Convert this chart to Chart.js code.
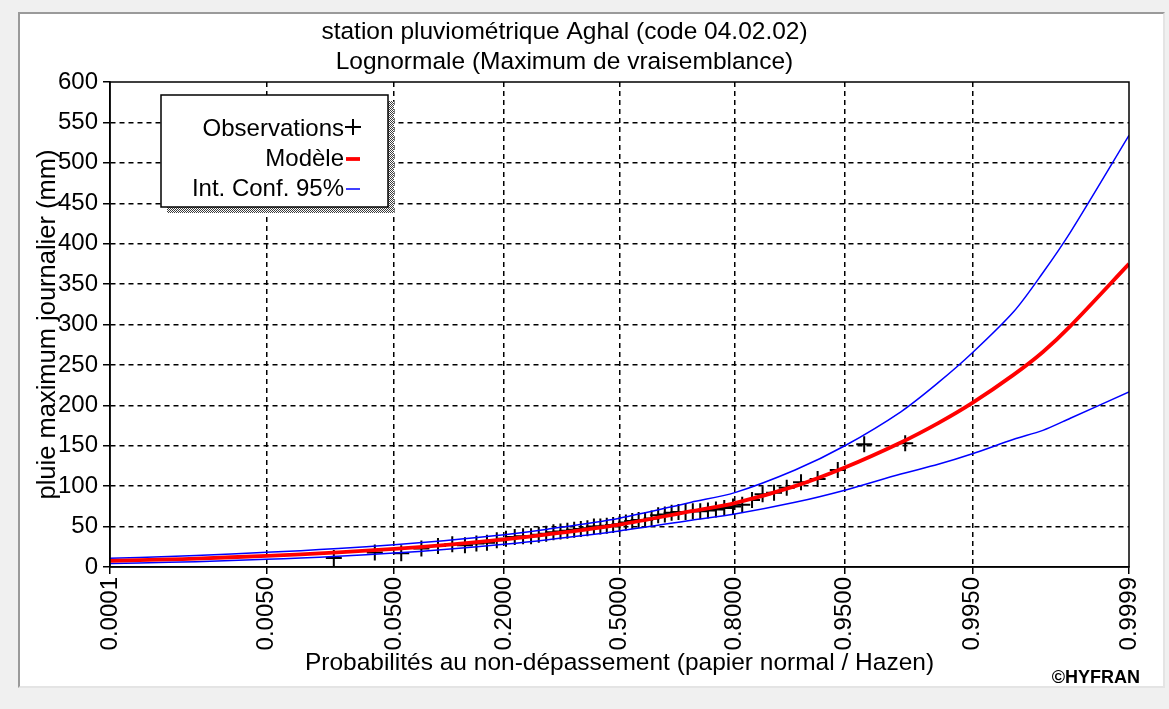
<!DOCTYPE html>
<html>
<head>
<meta charset="utf-8">
<title>station pluviométrique Aghal</title>
<script src="https://cdn.jsdelivr.net/npm/chart.js@4.4.1/dist/chart.umd.min.js"></script>
<style>
  html, body { margin: 0; padding: 0; width: 1169px; height: 709px; overflow: hidden; background: #f0f0f0; }
  #panel { position: absolute; left: 18px; top: 12px; width: 1143px; height: 672px; background: #fff;
           border-top: 2px solid #9a9a9a; border-left: 2px solid #9a9a9a;
           border-right: 2px solid #e4e4e4; border-bottom: 2px solid #e4e4e4; }
  #wrap { position: absolute; left: 0; top: 0; width: 1169px; height: 709px; }
</style>
</head>
<body>
<div id="panel"></div>
<div id="wrap"><canvas id="chart" width="1169" height="709"></canvas></div>
<script>
// ---- Data -------------------------------------------------------------
const titleLines = ['station pluviométrique Aghal (code 04.02.02)', 'Lognormale (Maximum de vraisemblance)'];

// Probability ticks of the normal-probability (Hazen) paper
const probTicks = [0.0001, 0.005, 0.05, 0.2, 0.5, 0.8, 0.95, 0.995, 0.9999];
const probTickLabels = ['0.0001', '0.0050', '0.0500', '0.2000', '0.5000', '0.8000', '0.9500', '0.9950', '0.9999'];

// Fitted quantiles (mm) and 95% confidence bounds at these non-exceedance probabilities
const quantileProbs = [0.0001, 0.0005, 0.001, 0.005, 0.01, 0.02, 0.05, 0.1, 0.2, 0.3, 0.5, 0.7, 0.8, 0.9, 0.95, 0.98, 0.99, 0.995, 0.998, 0.999, 0.9995, 0.9999];
const modelValues  = [7.5, 9.4, 10.4, 13.8, 15.7, 18.1, 22.4, 27.1, 34.1, 40.3, 52.5, 69, 79, 100, 123, 154, 178, 203, 238, 266, 298, 375];
const upperValues  = [10.7, 13.0, 14.2, 18.1, 20.2, 22.9, 27.5, 32.6, 40, 46.8, 60.4, 80.2, 92, 120, 150, 192, 228, 265, 316, 364, 414, 534];
const lowerValues  = [4.3, 5.8, 6.6, 9.5, 11.1, 13.3, 17.2, 21.6, 28.2, 33.8, 44.6, 57.9, 65.5, 80, 95, 115, 127, 140, 158, 169, 184, 216.5];

// Observed annual maximum daily rainfall (mm), ranked ascending
const observedValues = [11, 18, 17, 23, 26, 28, 27, 29, 30, 33, 35, 37, 38, 38, 40, 41, 43, 44, 45, 46, 47, 48,
  50, 50, 51, 52, 53, 55, 57, 58, 58, 60, 64, 65, 67, 68, 68, 69, 69, 70, 71, 73, 75, 77, 83, 90, 92, 98, 105, 109, 120, 152, 153];

const yMin = 0, yMax = 600, yMajorStep = 50, yMinorStep = 25;

// Empirical non-exceedance frequency of each ranked value: i / (n + 1)
const observedProbs = observedValues.map((_, i) => (i + 1) / (observedValues.length + 1));

// ---- Normal probability helpers --------------------------------------
function probit(p) {
  const a = [-3.969683028665376e+01, 2.209460984245205e+02, -2.759285104469687e+02, 1.383577518672690e+02, -3.066479806614716e+01, 2.506628277459239e+00];
  const b = [-5.447609879822406e+01, 1.615858368580409e+02, -1.556989798598866e+02, 6.680131188771972e+01, -1.328068155288572e+01];
  const c = [-7.784894002430293e-03, -3.223964580411365e-01, -2.400758277161838e+00, -2.549732539343734e+00, 4.374664141464968e+00, 2.938163982698783e+00];
  const d = [7.784695709041462e-03, 3.224671290700398e-01, 2.445134137142996e+00, 3.754408661907416e+00];
  const pl = 0.02425, ph = 1 - pl;
  let q, r;
  if (p < pl) {
    q = Math.sqrt(-2 * Math.log(p));
    return (((((c[0]*q+c[1])*q+c[2])*q+c[3])*q+c[4])*q+c[5]) / ((((d[0]*q+d[1])*q+d[2])*q+d[3])*q+1);
  }
  if (p > ph) {
    q = Math.sqrt(-2 * Math.log(1 - p));
    return -(((((c[0]*q+c[1])*q+c[2])*q+c[3])*q+c[4])*q+c[5]) / ((((d[0]*q+d[1])*q+d[2])*q+d[3])*q+1);
  }
  q = p - 0.5; r = q * q;
  return (((((a[0]*r+a[1])*r+a[2])*r+a[3])*r+a[4])*r+a[5])*q / (((((b[0]*r+b[1])*r+b[2])*r+b[3])*r+b[4])*r+1);
}
function normCdf(z) {
  const t = 1 / (1 + 0.2316419 * Math.abs(z));
  const dd = 0.3989423 * Math.exp(-z * z / 2);
  const pr = dd * t * (0.3193815 + t * (-0.3565638 + t * (1.781478 + t * (-1.821256 + t * 1.330274))));
  return z > 0 ? 1 - pr : pr;
}

// ---- Probability-paper axis ------------------------------------------
class ProbitScale extends Chart.Scale {
  determineDataLimits() {
    this.min = this.options.min;
    this.max = this.options.max;
  }
  buildTicks() {
    return probTicks.map(v => ({ value: v }));
  }
  configure() {
    super.configure();
    this._zMin = probit(this.min);
    this._zMax = probit(this.max);
  }
  getLabelForValue(v) { return v.toFixed(4); }
  getPixelForValue(v) {
    return this.getPixelForDecimal((probit(v) - this._zMin) / (this._zMax - this._zMin));
  }
  getValueForPixel(px) {
    return normCdf(this._zMin + this.getDecimalForPixel(px) * (this._zMax - this._zMin));
  }
}
ProbitScale.id = 'probit';
ProbitScale.defaults = {};
Chart.register(ProbitScale);

// ---- Drawing helpers --------------------------------------------------
const FONT = "'Liberation Sans', Arial, sans-serif";

function ditherPattern(ctx) {
  const c = document.createElement('canvas');
  c.width = 2; c.height = 2;
  const g = c.getContext('2d');
  g.fillStyle = '#ffffff'; g.fillRect(0, 0, 2, 2);
  g.fillStyle = '#3c3c3c'; g.fillRect(0, 0, 1, 1); g.fillRect(1, 1, 1, 1);
  return ctx.createPattern(c, 'repeat');
}

const framePlugin = {
  id: 'frame',
  afterDatasetsDraw(chart) {
    const { ctx, chartArea: a } = chart;
    ctx.save();
    ctx.strokeStyle = '#000';
    ctx.lineWidth = 1.5;
    ctx.strokeRect(a.left, a.top, a.right - a.left, a.bottom - a.top);
    ctx.restore();
  }
};

const legendPlugin = {
  id: 'boxLegend',
  afterDraw(chart) {
    const { ctx, chartArea: a } = chart;
    const x = a.left + 51, y = a.top + 13, w = 227, h = 112;
    ctx.save();
    // shadow
    ctx.fillStyle = ditherPattern(ctx);
    ctx.fillRect(x + 6, y + h, w, 6);
    ctx.fillRect(x + w, y + 6, 6, h);
    // box
    ctx.fillStyle = '#fff';
    ctx.fillRect(x, y, w, h);
    ctx.strokeStyle = '#000';
    ctx.lineWidth = 1.5;
    ctx.strokeRect(x, y, w, h);

    const seen = new Set();
    const items = [];
    chart.data.datasets.forEach(ds => {
      if (!seen.has(ds.label)) { seen.add(ds.label); items.push(ds); }
    });
    ctx.font = '24px ' + FONT;
    ctx.textAlign = 'right';
    ctx.textBaseline = 'alphabetic';
    const textRight = x + 183;
    items.forEach((ds, i) => {
      const base = y + 41 + i * 30;
      ctx.fillStyle = '#000';
      ctx.fillText(ds.label, textRight, base);
      const cy = base - 9;
      ctx.beginPath();
      if (ds.showLine === false) {
        ctx.strokeStyle = ds.pointBorderColor;
        ctx.lineWidth = ds.pointBorderWidth;
        ctx.moveTo(textRight + 1, cy); ctx.lineTo(textRight + 17, cy);
        ctx.moveTo(textRight + 9, cy - 8); ctx.lineTo(textRight + 9, cy + 8);
      } else {
        ctx.strokeStyle = ds.borderColor;
        ctx.lineWidth = ds.borderWidth;
        ctx.moveTo(textRight + 2, cy + 2); ctx.lineTo(textRight + 16, cy + 2);
      }
      ctx.stroke();
    });
    // copyright mark
    ctx.font = 'bold 18px ' + FONT;
    ctx.textAlign = 'right';
    ctx.fillStyle = '#000';
    ctx.fillText('©HYFRAN', 1140, 683);
    ctx.restore();
  }
};

const toPoints = (xs, ys) => xs.map((x, i) => ({ x, y: ys[i] }));

new Chart(document.getElementById('chart'), {
  type: 'line',
  data: {
    datasets: [
      { label: 'Observations', data: toPoints(observedProbs, observedValues), showLine: false,
        pointStyle: 'cross', pointRadius: 8, pointBorderColor: '#000', pointBorderWidth: 2,
        pointBackgroundColor: '#000', order: 4 },
      { label: 'Modèle', data: toPoints(quantileProbs, modelValues), borderColor: '#ff0000',
        borderWidth: 3.8, pointRadius: 0, tension: 0.3, order: 1 },
      { label: 'Int. Conf. 95%', data: toPoints(quantileProbs, upperValues), borderColor: '#0000ff',
        borderWidth: 1.5, pointRadius: 0, tension: 0.3, order: 2 },
      { label: 'Int. Conf. 95%', data: toPoints(quantileProbs, lowerValues), borderColor: '#0000ff',
        borderWidth: 1.5, pointRadius: 0, tension: 0.3, order: 3 }
    ]
  },
  options: {
    responsive: false,
    animation: false,
    events: [],
    layout: { padding: { left: 0, right: 40, top: 0, bottom: 0 } },
    plugins: {
      legend: { display: false },
      tooltip: { enabled: false },
      title: {
        display: true,
        text: titleLines,
        color: '#000',
        font: { family: FONT, size: 24.5, weight: 'normal', lineHeight: 1.2 },
        padding: { top: 18, bottom: 5.2 }
      }
    },
    scales: {
      x: {
        type: 'probit',
        min: 0.0001,
        max: 0.9999,
        afterFit(scale) { scale.height = 142; },
        ticks: {
          autoSkip: false, minRotation: 90, maxRotation: 90, padding: 3,
          color: '#000', font: { family: FONT, size: 24 },
          callback: (v, i) => probTickLabels[i]
        },
        grid: {
          color: ctx => (ctx.index === 0 || ctx.index === probTicks.length - 1) ? 'rgba(0,0,0,0)' : '#000',
          lineWidth: 1.5, tickLength: 7, tickColor: '#000', tickWidth: 1.5, tickBorderDash: []
        },
        border: { display: true, color: '#000', width: 1.5, dash: [5, 4] },
        title: {
          display: true, text: 'Probabilités au non-dépassement (papier normal / Hazen)',
          color: '#000', font: { family: FONT, size: 24.5, lineHeight: 1.2 },
          padding: { top: 0, bottom: 31 }
        }
      },
      y: {
        type: 'linear',
        min: yMin, max: yMax,
        afterFit(scale) { scale.width = 110; },
        ticks: {
          stepSize: yMinorStep, padding: 5, color: '#000', font: { family: FONT, size: 24 },
          callback: v => (v % yMajorStep === 0 ? String(v) : '')
        },
        grid: {
          color: ctx => {
            const v = ctx.tick ? ctx.tick.value : 0;
            return (v % yMajorStep === 0 && v !== yMin && v !== yMax) ? '#000' : 'rgba(0,0,0,0)';
          },
          lineWidth: 1.5, tickLength: 7, tickColor: '#000', tickWidth: 1.5, tickBorderDash: []
        },
        border: { display: true, color: '#000', width: 1.5, dash: [5, 4] },
        title: {
          display: true, text: 'pluie maximum journalier (mm)',
          color: '#000', font: { family: FONT, size: 25.5, lineHeight: 1.2 },
          padding: { top: 33, bottom: 0 }
        }
      }
    }
  },
  plugins: [framePlugin, legendPlugin]
});
</script>
</body>
</html>
